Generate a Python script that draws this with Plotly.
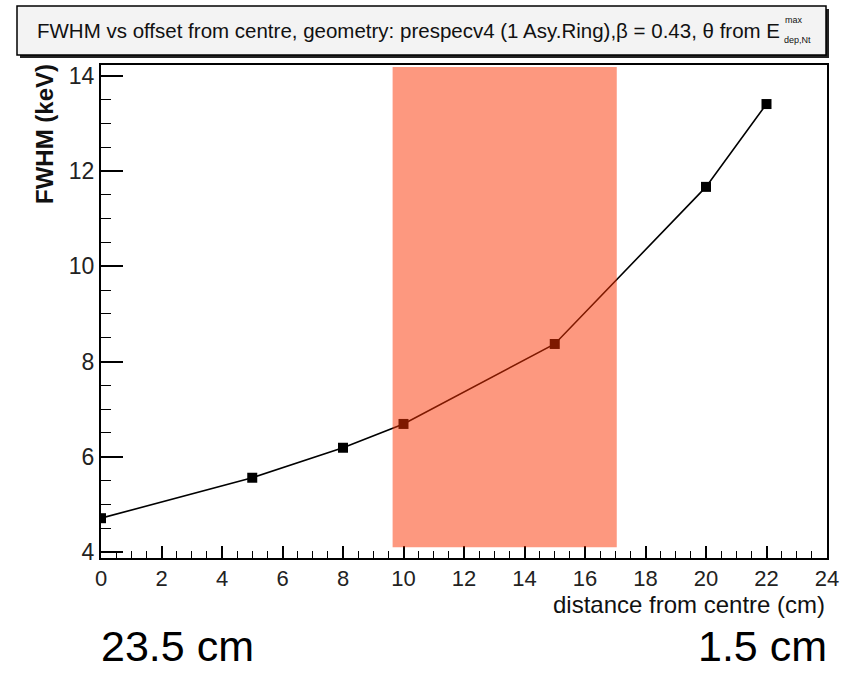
import plotly.graph_objects as go

# FWHM measurements vs offset from centre
distance_cm = [0, 5, 8, 10, 15, 20, 22]
fwhm_kev = [4.71, 5.56, 6.19, 6.69, 8.37, 11.67, 13.41]

x_ticks = list(range(0, 25, 2))
y_ticks = list(range(4, 15, 2))

# highlighted band along the distance axis
band_x = [9.64, 17.05]
band_y = [4.1, 14.19]

W, H = 841, 673
L, R, T, B = 101, 827, 65, 558
X_RANGE = [0, 24]
Y_RANGE = [3.874, 14.23]

FONT = "Liberation Sans, Arial, Helvetica, sans-serif"


def px(x):
    return (x - L) / (R - L)


def py(y):
    return (B - y) / (B - T)


fig = go.Figure()

fig.add_trace(go.Scatter(
    x=distance_cm, y=fwhm_kev,
    mode="lines+markers",
    line=dict(color="black", width=1.6),
    marker=dict(symbol="square", size=10, color="black"),
    showlegend=False,
    hoverinfo="skip",
))

shapes = [
    # translucent band drawn over the curve
    dict(type="rect", xref="x", yref="y",
         x0=band_x[0], x1=band_x[1], y0=band_y[0], y1=band_y[1],
         fillcolor="rgba(252,50,0,0.5)", line=dict(width=0), layer="above"),
    # title box shadow and box
    dict(type="rect", xref="paper", yref="paper",
         x0=px(20), x1=px(829), y0=py(58), y1=py(9),
         fillcolor="#222222", line=dict(width=0), layer="below"),
    dict(type="rect", xref="paper", yref="paper",
         x0=px(17), x1=px(826), y0=py(55), y1=py(6),
         fillcolor="#f3f3f3", line=dict(color="black", width=1.5), layer="below"),
]

annotations = [
    dict(text="FWHM vs offset from centre, geometry: prespecv4 (1 Asy.Ring),\u03b2 = 0.43, \u03b8 from E",
         x=px(35), y=py(30), xref="paper", yref="paper", xanchor="left", yanchor="middle",
         showarrow=False, font=dict(family=FONT, size=20.5, color="#111111")),
    dict(text="max", x=px(783), y=py(20), xref="paper", yref="paper",
         xanchor="left", yanchor="middle", showarrow=False,
         font=dict(family=FONT, size=9, color="#111111")),
    dict(text="dep,Nt", x=px(782), y=py(40), xref="paper", yref="paper",
         xanchor="left", yanchor="middle", showarrow=False,
         font=dict(family=FONT, size=9, color="#111111")),
    dict(text="<b>FWHM (keV)</b>", x=px(44), y=py(62), xref="paper", yref="paper",
         xanchor="center", yanchor="top", textangle=-90, showarrow=False,
         font=dict(family=FONT, size=24, color="#111111")),
    dict(text="distance from centre (cm)", x=px(827), y=py(604), xref="paper", yref="paper",
         xanchor="right", yanchor="middle", showarrow=False,
         font=dict(family=FONT, size=24, color="#111111")),
    dict(text="23.5 cm", x=px(177), y=py(672), xref="paper", yref="paper",
         xanchor="center", yanchor="bottom", showarrow=False,
         font=dict(family=FONT, size=43, color="black")),
    dict(text="1.5 cm", x=px(762), y=py(672), xref="paper", yref="paper",
         xanchor="center", yanchor="bottom", showarrow=False,
         font=dict(family=FONT, size=43, color="black")),
]

fig.update_layout(
    width=W, height=H,
    margin=dict(l=L, r=W - R, t=T, b=H - B, pad=0),
    paper_bgcolor="white", plot_bgcolor="white",
    shapes=shapes, annotations=annotations,
    showlegend=False,
)

fig.update_xaxes(
    range=X_RANGE, tickvals=x_ticks, ticktext=[str(v) for v in x_ticks],
    ticks="inside", ticklen=12, tickwidth=1.5, tickcolor="black",
    minor=dict(ticks="inside", ticklen=7, dtick=0.5, tick0=0, tickwidth=1.3, tickcolor="black"),
    showline=True, linecolor="black", linewidth=2, mirror=True,
    showgrid=False, zeroline=False, automargin=False,
    tickfont=dict(family=FONT, size=22, color="#222222"),
)
fig.update_yaxes(
    range=Y_RANGE, tickvals=y_ticks, ticktext=[str(v) for v in y_ticks],
    ticks="inside", ticklen=22, tickwidth=1.5, tickcolor="black",
    minor=dict(ticks="inside", ticklen=10, dtick=0.5, tick0=4, tickwidth=1.3, tickcolor="black"),
    showline=True, linecolor="black", linewidth=2, mirror=True,
    showgrid=False, zeroline=False, automargin=False,
    tickfont=dict(family=FONT, size=23, color="#222222"),
)

# keep the page exactly the size of the figure
page_css = ("document.documentElement.style.margin='0';"
            "document.body.style.margin='0';"
            "document.documentElement.style.overflow='hidden';"
            "document.body.style.overflow='hidden';")

fig.write_html("out.html", post_script=page_css)
